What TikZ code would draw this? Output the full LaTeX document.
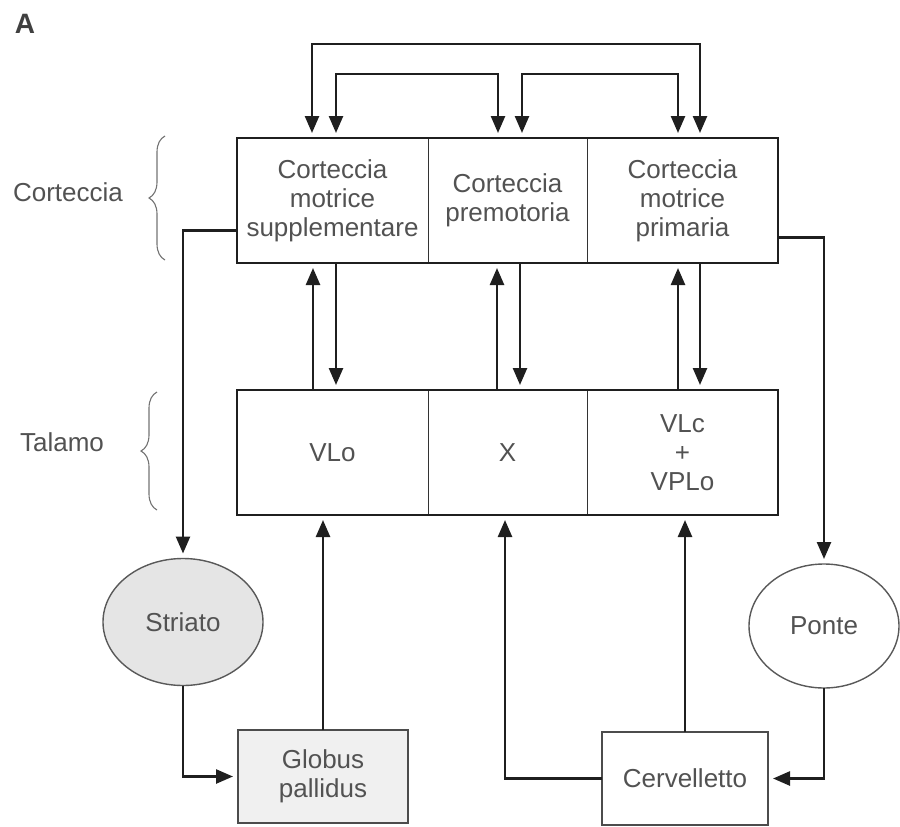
\documentclass[tikz,border=0pt]{standalone}
\usepackage{fontspec}
\setmainfont{Liberation Sans}
\usetikzlibrary{arrows.meta,shapes.geometric,decorations.pathreplacing}
\begin{document}
\begin{tikzpicture}[x=1pt,y=-1pt,
  txt/.style={text=black!68, font=\fontsize{26}{29}\selectfont, align=center},
  cell/.style={draw=black!80, line width=1pt, rectangle, inner sep=0pt, outer sep=0pt, minimum height=125pt, txt},
  frame/.style={draw=black!88, line width=2.2pt},
  tip/.style={Triangle[length=17pt,width=14pt]},
  conn/.style={draw=black!88, line width=2.5pt, -{Triangle[length=17pt,width=14pt]}, shorten >=5pt},
  dconn/.style={draw=black!88, line width=2.5pt, {Triangle[length=17pt,width=14pt]}-{Triangle[length=17pt,width=14pt]}, shorten >=5pt, shorten <=5pt},
  oval/.style={ellipse, draw=black!65, line width=1.4pt, inner sep=0pt, outer sep=0pt, txt},
  sbox/.style={rectangle, draw=black!70, line width=1.4pt, inner sep=0pt, outer sep=0pt, txt},
  lbl/.style={txt, anchor=center},
  brc/.style={draw=black!55, line width=1.1pt, decorate, decoration={brace, amplitude=16pt}}
]
\useasboundingbox (0,0) rectangle (900,827);

% panel letter
\node[font=\bfseries\fontsize{28}{30}\selectfont, text=black!75] (letA) at (25,24) {A};

% cortex row
\node[cell, minimum width=191pt] (sma) at (332.5,200.5) {Corteccia\\motrice\\supplementare};
\node[cell, minimum width=159pt] (pm) at (507.5,200.5) {Corteccia\\premotoria};
\node[cell, minimum width=191pt] (m1) at (682.5,200.5) {Corteccia\\motrice\\primaria};
\draw[frame] (sma.north west) rectangle (m1.south east);

% thalamus row
\node[cell, minimum width=191pt] (vlo) at (332.5,452.5) {VLo};
\node[cell, minimum width=159pt] (xc) at (507.5,452.5) {X};
\node[cell, minimum width=191pt] (vlc) at (682.5,452.5) {VLc\\+\\VPLo};
\draw[frame] (vlo.north west) rectangle (vlc.south east);

% side labels and braces
\node[lbl] (lcort) at (68,192) {Corteccia};
\node[lbl] (ltal) at (62,442) {Talamo};
\coordinate (bc1) at (165,260);
\coordinate (bc2) at (165,136);
\coordinate (bt1) at (157,510);
\coordinate (bt2) at (157,392);
\draw[brc] (bc1) -- (bc2);
\draw[brc] (bt1) -- (bt2);

% lower structures
\node[oval, fill=black!10, minimum width=160pt, minimum height=127pt] (str) at (183,622) {Striato};
\node[oval, fill=white, minimum width=150pt, minimum height=124pt] (ponte) at (824,626) {Ponte};
\node[sbox, fill=black!6, minimum width=170pt, minimum height=93pt] (gp) at (323,776.5) {Globus\\pallidus};
\node[sbox, fill=white, minimum width=166pt, minimum height=93pt] (cerv) at (685,778.5) {Cervelletto};

% cortico-cortical loops
\draw[dconn] ([xshift=75pt]sma.north west) -- ++(0,-94) -| ([xshift=113pt]m1.north west);
\draw[dconn] ([xshift=99pt]sma.north west) -- ++(0,-64) -| ([xshift=70pt]pm.north west);
\draw[dconn] ([xshift=94pt]pm.north west) -- ++(0,-64) -| ([xshift=91pt]m1.north west);

% thalamo-cortical
\draw[conn] ([xshift=76pt]vlo.north west) -- ([xshift=76pt]sma.south west);
\draw[conn] ([xshift=99pt]sma.south west) -- ([xshift=99pt]vlo.north west);
\draw[conn] ([xshift=69pt]xc.north west) -- ([xshift=69pt]pm.south west);
\draw[conn] ([xshift=92pt]pm.south west) -- ([xshift=92pt]xc.north west);
\draw[conn] ([xshift=91pt]vlc.north west) -- ([xshift=91pt]m1.south west);
\draw[conn] ([xshift=113pt]m1.south west) -- ([xshift=113pt]vlc.north west);

% descending
\draw[conn] ([yshift=-30pt]sma.west) -| (str.north);
\draw[conn] ([yshift=-37pt]m1.east) -| (ponte.north);

% basal ganglia loop
\draw[conn] (str.south) |- (gp.west);
\draw[conn] (gp.north) -- (gp.north |- vlo.south);

% cerebellar loop
\draw[conn] (ponte.south) |- (cerv.east);
\draw[conn] (cerv.north) -- (cerv.north |- vlc.south);
\draw[conn] (cerv.west) -| ([xshift=77pt]xc.south west);
\end{tikzpicture}
\end{document}
